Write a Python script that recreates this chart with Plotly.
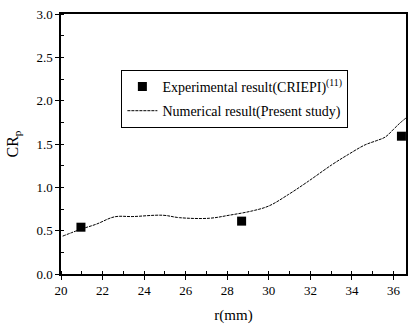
import plotly.graph_objects as go

exp_r = [20.96, 28.69, 36.38]
exp_cr = [0.54, 0.61, 1.59]

num_r = [20.08, 20.96, 21.7, 22.58, 23.46, 24.9, 25.7, 27.13, 28.09, 29.2, 30.0,
         30.96, 31.9, 33.03, 33.83, 34.63, 35.2, 35.6, 36.0, 36.3, 36.6]
num_cr = [0.437, 0.517, 0.575, 0.66, 0.663, 0.678, 0.65, 0.643, 0.678, 0.728, 0.785,
          0.92, 1.07, 1.26, 1.38, 1.49, 1.54, 1.58, 1.67, 1.74, 1.80]

exp_name = "Experimental result(CRIEPI)<sup>(11)</sup>"
num_name = "Numerical result(Present study)"

serif = "Liberation Serif"

fig = go.Figure()
fig.add_trace(go.Scatter(x=exp_r, y=exp_cr, mode="markers", name=exp_name,
                         legendgroup="a",
                         marker=dict(symbol="square", size=9, color="black")))
fig.add_trace(go.Scatter(x=num_r, y=num_cr, mode="lines", name=num_name,
                         legendgroup="b",
                         line=dict(color="black", width=1, dash="3px,1px", shape="spline")))

fig.update_layout(
    width=410, height=324,
    margin=dict(l=61, r=2, t=14, b=49),
    paper_bgcolor="white", plot_bgcolor="white",
    font=dict(family=serif, size=13, color="black"),
    showlegend=True,
    legend=dict(x=0.175, y=0.785, xanchor="left", yanchor="top",
                bordercolor="black", borderwidth=1, bgcolor="white",
                font=dict(family=serif, size=14),
                traceorder="grouped", tracegroupgap=3),
    xaxis=dict(range=[20, 36.6], dtick=2, tick0=20, showgrid=False, zeroline=False,
               showline=True, linecolor="black", linewidth=1.5, mirror=True,
               ticks="outside", ticklen=4, tickcolor="black",
               minor=dict(dtick=1, ticks="inside", ticklen=3, tickcolor="black"),
               title=dict(text="r(mm)", font=dict(size=15), standoff=13)),
    yaxis=dict(range=[0, 3], dtick=0.5, tick0=0, tickformat=".1f", showgrid=False,
               zeroline=False, showline=True, linecolor="black", linewidth=1.5,
               mirror=True, ticks="outside", ticklen=4, tickcolor="black",
               minor=dict(dtick=0.25, ticks="inside", ticklen=3, tickcolor="black"),
               title=dict(text="CR<sub>p</sub>", font=dict(size=16), standoff=14)),
)

fig.write_html("out.html")
